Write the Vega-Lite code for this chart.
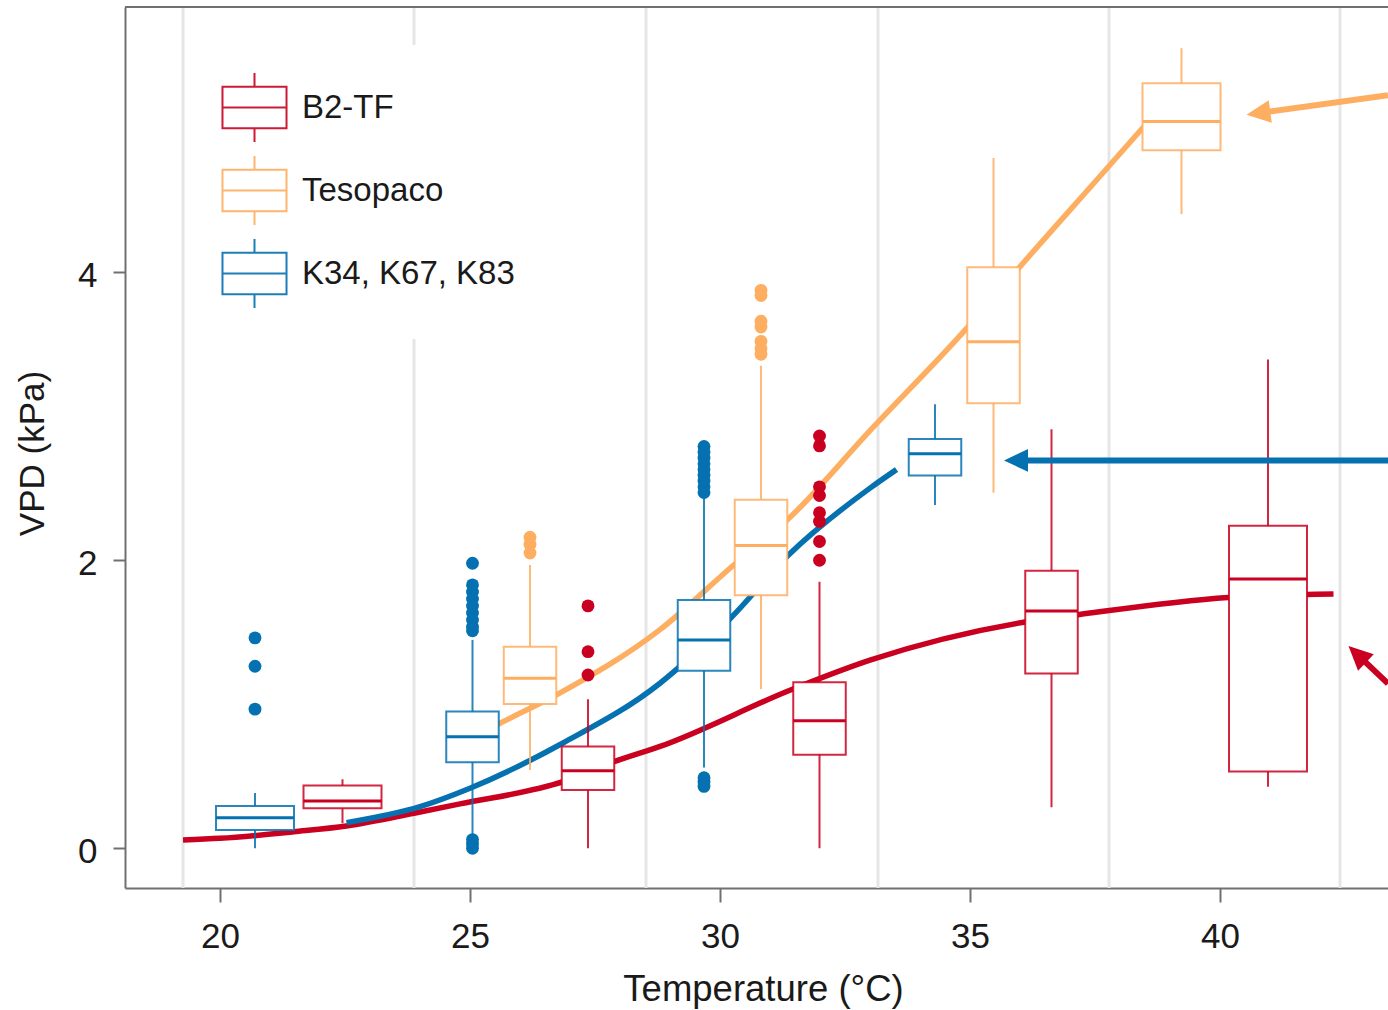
{
  "$schema": "https://vega.github.io/schema/vega-lite/v6.json",
  "autosize": {"type": "none"},
  "padding": {"left": 125, "top": 7, "right": 0, "bottom": 122},
  "width": 1263,
  "height": 881,
  "background": "white",
  "config": {
    "view": {"stroke": null},
    "font": "Liberation Sans"
  },
  "datasets": {
    "bins": [
      {"t": 19.26}, {"t": 23.88}, {"t": 28.52}, {"t": 33.16}, {"t": 37.78}, {"t": 42.4}
    ],
    "curves": [
      {"site": "B2-TF", "t": 19.26, "v": 0.058},
      {"site": "B2-TF", "t": 20.0, "v": 0.069},
      {"site": "B2-TF", "t": 21.48, "v": 0.115},
      {"site": "B2-TF", "t": 22.53, "v": 0.155},
      {"site": "B2-TF", "t": 23.88, "v": 0.243},
      {"site": "B2-TF", "t": 24.8, "v": 0.308},
      {"site": "B2-TF", "t": 26.86, "v": 0.462},
      {"site": "B2-TF", "t": 27.88, "v": 0.601},
      {"site": "B2-TF", "t": 28.8, "v": 0.707},
      {"site": "B2-TF", "t": 31.46, "v": 1.106},
      {"site": "B2-TF", "t": 33.0, "v": 1.306},
      {"site": "B2-TF", "t": 36.1, "v": 1.571},
      {"site": "B2-TF", "t": 37.16, "v": 1.622},
      {"site": "B2-TF", "t": 40.16, "v": 1.742},
      {"site": "B2-TF", "t": 42.27, "v": 1.766},
      {"site": "Tesopaco", "t": 25.5, "v": 0.85},
      {"site": "Tesopaco", "t": 25.6, "v": 0.868},
      {"site": "Tesopaco", "t": 26.73, "v": 1.065},
      {"site": "Tesopaco", "t": 28.8, "v": 1.518},
      {"site": "Tesopaco", "t": 30.28, "v": 1.969},
      {"site": "Tesopaco", "t": 31.37, "v": 2.288},
      {"site": "Tesopaco", "t": 33.0, "v": 2.9},
      {"site": "Tesopaco", "t": 34.95, "v": 3.617},
      {"site": "Tesopaco", "t": 35.99, "v": 4.035},
      {"site": "Tesopaco", "t": 37.6, "v": 4.667},
      {"site": "Tesopaco", "t": 38.6, "v": 5.06},
      {"site": "K34, K67, K83", "t": 22.53, "v": 0.178},
      {"site": "K34, K67, K83", "t": 24.0, "v": 0.289},
      {"site": "K34, K67, K83", "t": 25.0, "v": 0.417},
      {"site": "K34, K67, K83", "t": 26.86, "v": 0.731},
      {"site": "K34, K67, K83", "t": 28.8, "v": 1.146},
      {"site": "K34, K67, K83", "t": 30.21, "v": 1.597},
      {"site": "K34, K67, K83", "t": 31.37, "v": 2.036},
      {"site": "K34, K67, K83", "t": 33.0, "v": 2.501},
      {"site": "K34, K67, K83", "t": 33.53, "v": 2.63}
    ],
    "boxes": [
      {"site": "K34, K67, K83", "t": 20.7, "lo": 0.0, "q1": 0.127, "med": 0.2125, "q3": 0.294, "hi": 0.384, "n": 2},
      {"site": "B2-TF", "t": 22.45, "lo": 0.174, "q1": 0.278, "med": 0.328, "q3": 0.435, "hi": 0.479, "n": 2},
      {"site": "K34, K67, K83", "t": 25.05, "lo": 0.09, "q1": 0.597, "med": 0.775, "q3": 0.949, "hi": 1.447, "n": 3},
      {"site": "Tesopaco", "t": 26.2, "lo": 0.544, "q1": 1.002, "med": 1.181, "q3": 1.4, "hi": 1.967, "n": 3},
      {"site": "B2-TF", "t": 27.36, "lo": 0.0, "q1": 0.405, "med": 0.539, "q3": 0.706, "hi": 1.035, "n": 3},
      {"site": "K34, K67, K83", "t": 29.68, "lo": 0.561, "q1": 1.233, "med": 1.447, "q3": 1.724, "hi": 2.448, "n": 3},
      {"site": "Tesopaco", "t": 30.82, "lo": 1.106, "q1": 1.757, "med": 2.103, "q3": 2.421, "hi": 3.351, "n": 3},
      {"site": "B2-TF", "t": 31.99, "lo": 0.0, "q1": 0.649, "med": 0.885, "q3": 1.153, "hi": 1.85, "n": 3},
      {"site": "K34, K67, K83", "t": 34.3, "lo": 2.383, "q1": 2.588, "med": 2.74, "q3": 2.842, "hi": 3.083, "n": 3},
      {"site": "Tesopaco", "t": 35.47, "lo": 2.469, "q1": 3.09, "med": 3.517, "q3": 4.035, "hi": 4.794, "n": 3},
      {"site": "B2-TF", "t": 36.63, "lo": 0.284, "q1": 1.214, "med": 1.648, "q3": 1.927, "hi": 2.91, "n": 3},
      {"site": "Tesopaco", "t": 39.23, "lo": 4.404, "q1": 4.847, "med": 5.047, "q3": 5.313, "hi": 5.556, "n": 2},
      {"site": "B2-TF", "t": 40.96, "lo": 0.427, "q1": 0.533, "med": 1.869, "q3": 2.24, "hi": 3.394, "n": 2}
    ],
    "outliers": [
      {"site": "K34, K67, K83", "t": 20.7, "v": 1.461},
      {"site": "K34, K67, K83", "t": 20.7, "v": 1.264},
      {"site": "K34, K67, K83", "t": 20.7, "v": 0.966},
      {"site": "K34, K67, K83", "t": 25.05, "v": 1.979},
      {"site": "K34, K67, K83", "t": 25.05, "v": 1.829},
      {"site": "K34, K67, K83", "t": 25.05, "v": 1.78},
      {"site": "K34, K67, K83", "t": 25.05, "v": 1.731},
      {"site": "K34, K67, K83", "t": 25.05, "v": 1.682},
      {"site": "K34, K67, K83", "t": 25.05, "v": 1.634},
      {"site": "K34, K67, K83", "t": 25.05, "v": 1.585},
      {"site": "K34, K67, K83", "t": 25.05, "v": 1.537},
      {"site": "K34, K67, K83", "t": 25.05, "v": 1.51},
      {"site": "K34, K67, K83", "t": 25.05, "v": 0.06},
      {"site": "K34, K67, K83", "t": 25.05, "v": 0.03},
      {"site": "K34, K67, K83", "t": 25.05, "v": 0.0},
      {"site": "Tesopaco", "t": 26.2, "v": 2.16},
      {"site": "Tesopaco", "t": 26.2, "v": 2.11},
      {"site": "Tesopaco", "t": 26.2, "v": 2.05},
      {"site": "B2-TF", "t": 27.36, "v": 1.683},
      {"site": "B2-TF", "t": 27.36, "v": 1.365},
      {"site": "B2-TF", "t": 27.36, "v": 1.203},
      {"site": "K34, K67, K83", "t": 29.68, "v": 2.79},
      {"site": "K34, K67, K83", "t": 29.68, "v": 2.75},
      {"site": "K34, K67, K83", "t": 29.68, "v": 2.71},
      {"site": "K34, K67, K83", "t": 29.68, "v": 2.67},
      {"site": "K34, K67, K83", "t": 29.68, "v": 2.63},
      {"site": "K34, K67, K83", "t": 29.68, "v": 2.59},
      {"site": "K34, K67, K83", "t": 29.68, "v": 2.55},
      {"site": "K34, K67, K83", "t": 29.68, "v": 2.51},
      {"site": "K34, K67, K83", "t": 29.68, "v": 2.47},
      {"site": "K34, K67, K83", "t": 29.68, "v": 0.49},
      {"site": "K34, K67, K83", "t": 29.68, "v": 0.46},
      {"site": "K34, K67, K83", "t": 29.68, "v": 0.43},
      {"site": "Tesopaco", "t": 30.82, "v": 3.874},
      {"site": "Tesopaco", "t": 30.82, "v": 3.838},
      {"site": "Tesopaco", "t": 30.82, "v": 3.66},
      {"site": "Tesopaco", "t": 30.82, "v": 3.62},
      {"site": "Tesopaco", "t": 30.82, "v": 3.52},
      {"site": "Tesopaco", "t": 30.82, "v": 3.47},
      {"site": "Tesopaco", "t": 30.82, "v": 3.43},
      {"site": "B2-TF", "t": 31.99, "v": 2.863},
      {"site": "B2-TF", "t": 31.99, "v": 2.794},
      {"site": "B2-TF", "t": 31.99, "v": 2.51},
      {"site": "B2-TF", "t": 31.99, "v": 2.45},
      {"site": "B2-TF", "t": 31.99, "v": 2.33},
      {"site": "B2-TF", "t": 31.99, "v": 2.27},
      {"site": "B2-TF", "t": 31.99, "v": 2.13},
      {"site": "B2-TF", "t": 31.99, "v": 2.0}
    ],
    "arrows": [
      {"site": "Tesopaco", "t0": 43.36, "v0": 5.23, "t1": 40.77, "v1": 5.105, "tipT": 40.53, "tipV": 5.094},
      {"site": "K34, K67, K83", "t0": 43.36, "v0": 2.693, "t1": 35.92, "v1": 2.693, "tipT": 35.68, "tipV": 2.693},
      {"site": "B2-TF", "t0": 43.36, "v0": 1.143, "t1": 42.74, "v1": 1.348, "tipT": 42.57, "tipV": 1.405}
    ]
  },
  "encoding": {
    "x": {
      "type": "quantitative",
      "scale": {"domain": [18.1, 43.36], "nice": false, "zero": false, "padding": 0},
      "axis": {
        "values": [20, 25, 30, 35, 40], "title": "Temperature (°C)", "grid": false,
        "domainColor": "#707070", "domainWidth": 2, "tickColor": "#707070", "tickWidth": 2, "tickSize": 14,
        "labelFont": "Liberation Sans", "labelFontSize": 35, "labelColor": "#1a1a1a",
        "labelBaseline": "alphabetic", "labelPadding": 45,
        "titleFont": "Liberation Sans", "titleFontSize": 36.5, "titleFontWeight": "normal", "titleColor": "#1a1a1a",
        "titleX": 638, "titleY": 112, "titleAlign": "center", "titleBaseline": "alphabetic"
      }
    },
    "y": {
      "type": "quantitative",
      "scale": {"domain": [-0.276, 5.842], "nice": false, "zero": false, "padding": 0},
      "axis": {
        "values": [0, 2, 4], "title": "VPD (kPa)", "grid": false,
        "domainColor": "#707070", "domainWidth": 2, "tickColor": "#707070", "tickWidth": 2, "tickSize": 12,
        "labelFont": "Liberation Sans", "labelFontSize": 35, "labelColor": "#1a1a1a",
        "labelPadding": 16, "labelBaseline": "alphabetic", "labelOffset": 14,
        "titleFont": "Liberation Sans", "titleFontSize": 35, "titleFontWeight": "normal", "titleColor": "#1a1a1a",
        "titleX": -81.5, "titleY": 446, "titleAngle": 270, "titleAlign": "center", "titleBaseline": "alphabetic"
      }
    }
  },
  "layer": [
    {
      "data": {"name": "bins"},
      "mark": {"type": "rule", "color": "#e6e6e6", "strokeWidth": 3},
      "encoding": {
        "x": {"field": "t"},
        "y": null
      }
    },
    {
      "data": {"name": "bins"},
      "mark": {"type": "rule", "color": "#707070", "strokeWidth": 2},
      "encoding": {
        "x": null,
        "y": {"datum": 5.842}
      }
    },
    {
      "data": {"name": "curves"},
      "mark": {"type": "line", "strokeWidth": 5.5, "interpolate": "monotone"},
      "encoding": {
        "x": {"field": "t"},
        "y": {"field": "v"},
        "color": {
          "field": "site", "type": "nominal",
          "scale": {"domain": ["B2-TF", "Tesopaco", "K34, K67, K83"], "range": ["#ca0020", "#fdae61", "#0571b0"]},
          "legend": {
            "title": null, "orient": "none", "legendX": 67, "legendY": 38,
            "fillColor": "white", "padding": 27, "rowPadding": 6,
            "symbolType": "M-0.957,-0.603H0.957 M0.928,-0.632V0.632 M0.957,0.603H-0.957 M-0.928,0.632V-0.632 M-0.928,0H0.928 M0,-0.603V-1 M0,0.603V1",
            "symbolSize": 4761, "symbolStrokeWidth": 2, "symbolFillColor": "white", "symbolOpacity": 0.9,
            "labelFont": "Liberation Sans", "labelFontSize": 33, "labelColor": "#1a1a1a",
            "labelOffset": 12, "labelLimit": 400
          }
        }
      }
    },
    {
      "data": {"name": "boxes"},
      "mark": {"type": "rule", "strokeWidth": 2, "opacity": 0.85},
      "encoding": {
        "x": {"field": "t"},
        "y": {"field": "lo"},
        "y2": {"field": "hi"},
        "stroke": {
          "field": "site", "type": "nominal",
          "scale": {"domain": ["B2-TF", "Tesopaco", "K34, K67, K83"], "range": ["#ca0020", "#fdae61", "#0571b0"]},
          "legend": null
        }
      }
    },
    {
      "data": {"name": "boxes"},
      "mark": {"type": "bar", "fill": "white", "strokeWidth": 2, "strokeOpacity": 0.85},
      "encoding": {
        "x": {"field": "t"},
        "y": {"field": "q1"},
        "y2": {"field": "q3"},
        "size": {"field": "n", "type": "quantitative", "scale": {"domain": [2, 3], "range": [78, 52.5]}, "legend": null},
        "stroke": {"field": "site", "type": "nominal", "legend": null}
      }
    },
    {
      "data": {"name": "boxes"},
      "mark": {"type": "tick", "orient": "horizontal", "thickness": 3, "opacity": 1},
      "encoding": {
        "x": {"field": "t"},
        "y": {"field": "med"},
        "size": {"field": "n", "type": "quantitative", "legend": null},
        "fill": {
          "field": "site", "type": "nominal",
          "scale": {"domain": ["B2-TF", "Tesopaco", "K34, K67, K83"], "range": ["#ca0020", "#fdae61", "#0571b0"]},
          "legend": null
        }
      }
    },
    {
      "data": {"name": "outliers"},
      "mark": {"type": "point", "filled": true, "size": 165, "opacity": 1},
      "encoding": {
        "x": {"field": "t"},
        "y": {"field": "v"},
        "fill": {"field": "site", "type": "nominal", "legend": null}
      }
    },
    {
      "data": {"name": "arrows"},
      "mark": {"type": "rule", "strokeWidth": 6},
      "encoding": {
        "x": {"field": "t0"},
        "y": {"field": "v0"},
        "x2": {"field": "t1"},
        "y2": {"field": "v1"},
        "stroke": {"field": "site", "type": "nominal", "legend": null}
      }
    },
    {
      "data": {"name": "arrows"},
      "transform": [{"filter": "datum.site === 'Tesopaco'"}],
      "mark": {"type": "point", "shape": "M0,0L2,-0.95L2,0.95Z", "filled": true, "size": 576, "angle": 352.2, "opacity": 1},
      "encoding": {
        "x": {"field": "tipT"},
        "y": {"field": "tipV"},
        "fill": {"field": "site", "type": "nominal", "legend": null}
      }
    },
    {
      "data": {"name": "arrows"},
      "transform": [{"filter": "datum.site === 'K34, K67, K83'"}],
      "mark": {"type": "point", "shape": "M0,0L2,-0.95L2,0.95Z", "filled": true, "size": 576, "angle": 0, "opacity": 1},
      "encoding": {
        "x": {"field": "tipT"},
        "y": {"field": "tipV"},
        "fill": {"field": "site", "type": "nominal", "legend": null}
      }
    },
    {
      "data": {"name": "arrows"},
      "transform": [{"filter": "datum.site === 'B2-TF'"}],
      "mark": {"type": "point", "shape": "M0,0L2,-0.95L2,0.95Z", "filled": true, "size": 576, "angle": 43.5, "opacity": 1},
      "encoding": {
        "x": {"field": "tipT"},
        "y": {"field": "tipV"},
        "fill": {"field": "site", "type": "nominal", "legend": null}
      }
    }
  ]
}
